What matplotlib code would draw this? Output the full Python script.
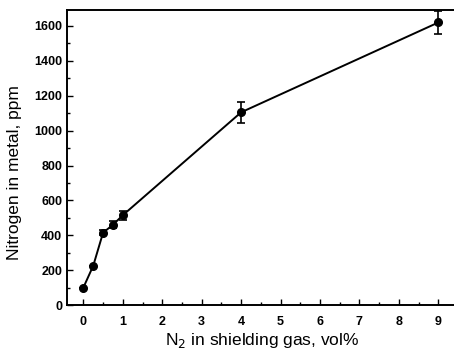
import matplotlib
matplotlib.use("Agg")
import matplotlib.pyplot as plt
from matplotlib.ticker import MultipleLocator

# data
n2_vol = [0, 0.25, 0.5, 0.75, 1.0, 4.0, 9.0]
nitrogen_ppm = [100, 225, 415, 460, 515, 1105, 1620]
err_ppm = [0, 0, 15, 20, 25, 60, 68]

plt.rcParams["font.family"] = ["Liberation Sans", "DejaVu Sans"]

fig = plt.figure(figsize=(4.54, 3.61), dpi=100)
ax = fig.add_axes([0.148, 0.155, 0.86, 0.817])

ax.errorbar(n2_vol, nitrogen_ppm, yerr=err_ppm, color="black", marker="o", ms=5.5,
            lw=1.4, elinewidth=1.2, capsize=3, capthick=1.2)

ax.set_xlim(-0.41, 9.49)
ax.set_ylim(0, 1691)
ax.xaxis.set_major_locator(MultipleLocator(1))
ax.xaxis.set_minor_locator(MultipleLocator(0.5))
ax.yaxis.set_major_locator(MultipleLocator(200))
ax.yaxis.set_minor_locator(MultipleLocator(100))
ax.tick_params(which="both", direction="in", labelsize=9, width=1.0)
ax.tick_params(which="major", length=4)
ax.tick_params(which="minor", length=2)
ax.tick_params(axis="x", which="major", pad=8)
for lab in ax.get_xticklabels() + ax.get_yticklabels():
    lab.set_fontweight("bold")
for s in ["left", "bottom", "top"]:
    ax.spines[s].set_linewidth(1.4)
ax.spines["right"].set_visible(False)

ax.set_xlabel("N$_2$ in shielding gas, vol%", fontsize=12.5, labelpad=2)
ax.set_ylabel("Nitrogen in metal, ppm", fontsize=12.5)
ax.yaxis.set_label_coords(-0.115, 0.45)

fig.savefig("out.png", dpi=100)
